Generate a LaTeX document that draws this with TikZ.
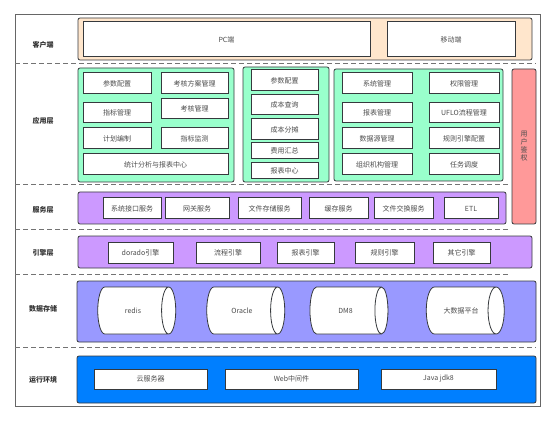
\documentclass[tikz,border=0pt]{standalone}
\usepackage{fontspec}
\setmainfont{Noto Sans CJK SC}
\usepackage{xcolor}
\usepackage{tikz}
\usetikzlibrary{shapes.geometric}

\definecolor{linec}{HTML}{36393D}
\definecolor{clientc}{HTML}{FFE6CC}
\definecolor{appc}{HTML}{99FFCC}
\definecolor{authc}{HTML}{FF9999}
\definecolor{servc}{HTML}{CC99FF}
\definecolor{datac}{HTML}{9999FF}
\definecolor{runc}{HTML}{007FFF}

\begin{document}
\begin{tikzpicture}[
    x=1pt, y=-1pt,
    font=\fontsize{7pt}{8pt}\selectfont,
    layer/.style={rectangle, draw=linec, line width=0.8pt, rounded corners=2pt, inner sep=0pt},
    box/.style={rectangle, draw=linec, fill=white, line width=1pt, inner sep=0pt, text=black!70, minimum height=21pt},
    db/.style={cylinder, draw=linec, fill=white, line width=0.8pt, aspect=2.5, minimum width=47pt, minimum height=78pt, inner sep=0pt, text=black!70},
    tag/.style={font=\fontsize{7pt}{8pt}\selectfont\bfseries, text=black!80},
    sep/.style={draw=black!55, line width=0.6pt, dash pattern=on 5pt off 3pt}
]
    \useasboundingbox (0,0) rectangle (554,422);
    \draw[black!60, line width=0.8pt] (15,14) rectangle (540,406);

    \draw[sep] (15,63) -- (536,63);
    \draw[sep] (15,184) -- (510,184);
    \draw[sep] (15,229) -- (510,229);
    \draw[sep] (15,274) -- (510,274);
    \draw[sep] (15,347) -- (536,347);

    \node[tag] (tclient) at (43,45) {客户端};
    \node[tag] (tapp) at (43,121) {应用层};
    \node[tag] (tserv) at (43,210) {服务层};
    \node[tag] (teng) at (43,253) {引擎层};
    \node[tag] (tdata) at (43,309) {数据存储};
    \node[tag] (trun) at (43,380) {运行环境};

    \node[layer, fill=clientc, minimum width=454pt, minimum height=42pt] (client) at (305,39) {};
    \node[box, minimum width=287pt, minimum height=35pt] (pc) at (226.5,39.5) {PC端};
    \node[box, minimum width=128pt, minimum height=35pt] (mobile) at (451,39.5) {移动端};

    \node[layer, fill=appc, minimum width=156pt, minimum height=114pt] (kpi) at (156,125) {};
    \node[box, minimum width=68pt] (kpiconf) at (117,83.5) {参数配置};
    \node[box, minimum width=67pt] (plan) at (194.5,83.5) {考核方案管理};
    \node[box, minimum width=68pt, minimum height=20pt] (index) at (117,113) {指标管理};
    \node[box, minimum width=67pt, minimum height=20pt] (assess) at (194.5,109) {考核管理};
    \node[box, minimum width=68pt] (draft) at (117,138.5) {计划编制};
    \node[box, minimum width=67pt] (monitor) at (194.5,138.5) {指标监测};
    \node[box, minimum width=145pt] (stat) at (155.5,164.5) {统计分析与报表中心};

    \node[layer, fill=appc, minimum width=86pt, minimum height=115pt] (cost) at (286,124.5) {};
    \node[box, minimum width=67pt] (costconf) at (284.5,80.5) {参数配置};
    \node[box, minimum width=67pt, minimum height=20pt] (query) at (284.5,105) {成本查询};
    \node[box, minimum width=67pt] (share) at (284.5,129.5) {成本分摊};
    \node[box, minimum width=67pt, minimum height=16pt] (fee) at (284.5,151) {费用汇总};
    \node[box, minimum width=67pt, minimum height=16pt] (report) at (284.5,171) {报表中心};

    \node[layer, fill=appc, minimum width=169pt, minimum height=112pt] (sys) at (418.5,125) {};
    \node[box, minimum width=70pt] (sysmgr) at (377,83.5) {系统管理};
    \node[box, minimum width=70pt] (perm) at (464,83.5) {权限管理};
    \node[box, minimum width=70pt, minimum height=20pt] (repmgr) at (377,113) {报表管理};
    \node[box, minimum width=70pt, minimum height=20pt] (uflo) at (464,113) {UFLO流程管理};
    \node[box, minimum width=70pt] (source) at (377,138.5) {数据源管理};
    \node[box, minimum width=70pt] (rule) at (464,138.5) {规则引擎配置};
    \node[box, minimum width=70pt] (org) at (377,164.5) {组织机构管理};
    \node[box, minimum width=70pt] (task) at (464,164.5) {任务调度};

    \node[layer, fill=authc, minimum width=24pt, minimum height=155pt, align=center, text=black!70] (auth) at (524,146.5) {用\\户\\鉴\\权};

    \node[layer, fill=servc, minimum width=428pt, minimum height=32pt] (serv) at (292,208) {};
    \node[box, minimum width=58pt] (api) at (132,208.5) {系统接口服务};
    \node[box, minimum width=64pt] (gate) at (197,208.5) {网关服务};
    \node[box, minimum width=63pt] (store) at (269.5,208.5) {文件存储服务};
    \node[box, minimum width=59pt] (cache) at (338.5,208.5) {缓存服务};
    \node[box, minimum width=59pt] (swap) at (403.5,208.5) {文件交换服务};
    \node[box, minimum width=54pt] (etl) at (471,208.5) {ETL};

    \node[layer, fill=servc, minimum width=454pt, minimum height=32pt] (eng) at (305,252) {};
    \node[box, minimum width=65pt] (dorado) at (140.5,252.5) {dorado引擎};
    \node[box, minimum width=64pt] (flow) at (228,252.5) {流程引擎};
    \node[box, minimum width=57pt] (repeng) at (305.5,252.5) {报表引擎};
    \node[box, minimum width=59pt] (ruleeng) at (384.5,252.5) {规则引擎};
    \node[box, minimum width=57pt] (other) at (461.5,252.5) {其它引擎};

    \node[layer, fill=datac, minimum width=459pt, minimum height=61pt] (data) at (306.5,311.5) {};
    \node[db] (redis) at (133,310.5) {redis};
    \node[db] (oracle) at (242,310.5) {Oracle};
    \node[db] (dm) at (345.5,310.5) {DM8};
    \node[db] (bigdata) at (461,310.5) {大数据平台};

    \node[layer, fill=runc, minimum width=459pt, minimum height=47pt] (run) at (306.5,379.5) {};
    \node[box, minimum width=113pt, minimum height=20pt] (cloud) at (150.5,379) {云服务器};
    \node[box, minimum width=133pt, minimum height=20pt] (web) at (291.5,379) {Web中间件};
    \node[box, minimum width=115pt, minimum height=20pt] (jdk) at (438.5,379) {Java jdk8};
\end{tikzpicture}
\end{document}
